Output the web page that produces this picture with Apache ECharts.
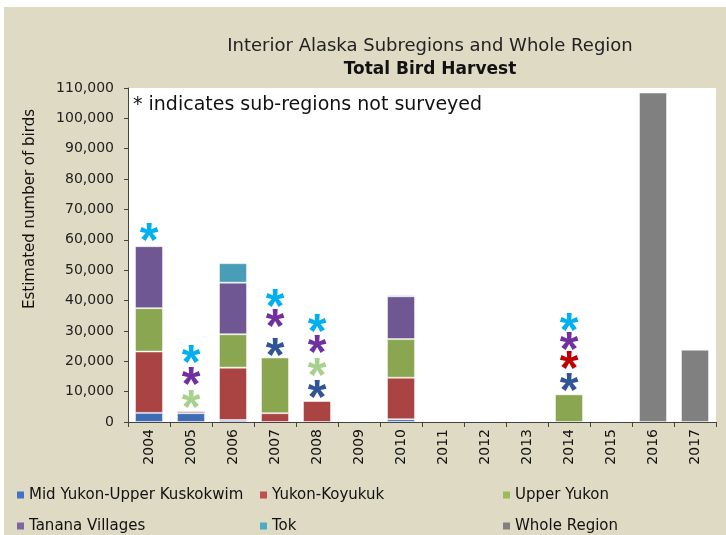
<!DOCTYPE html>
<html>
<head>
<meta charset="utf-8">
<script src="https://cdn.jsdelivr.net/npm/echarts@6/dist/echarts.min.js"></script>
<style>
html,body{margin:0;padding:0;background:#fff;}
#c{width:726px;height:535px;}
</style>
</head>
<body>
<div id="c"></div>
<script>
const years = ['2004','2005','2006','2007','2008','2009','2010','2011','2012','2013','2014','2015','2016','2017'];
const yTicks = [0,10000,20000,30000,40000,50000,60000,70000,80000,90000,100000,110000];
const midYukon     = [3000, 2900,   650, null, null, null,   900, null, null, null, null, null, null, null];
const yukonKoyukuk = [20200, 650, 17250, 2900, 6900, null, 13700, null, null, null, null, null, null, null];
const upperYukon   = [14300, null, 11000, 18350, null, null, 12700, null, null, null, 9100, null, null, null];
const tanana       = [20400, null, 17000, null, null, null, 14100, null, null, null, null, null, null, null];
const tok          = [null, null, 6400, null, null, null, 450, null, null, null, null, null, null, null];
const wholeRegion  = [null, null, null, null, null, null, null, null, null, null, null, null, 108500, 23800];

// asterisks: sub-regions not surveyed
const starYears  = ['2004','2005','2005','2005','2007','2007','2007','2008','2008','2008','2008','2014','2014','2014','2014'];
const starValues = [62800, 22400, 15200, 7700, 40800, 34200, 24900, 32600, 25700, 18100, 11100, 33100, 26800, 20500, 13300];
const starColors = ['#00B0F0','#00B0F0','#7030A0','#A9D18E','#00B0F0','#7030A0','#2F5597','#00B0F0','#7030A0','#A9D18E','#2F5597','#00B0F0','#7030A0','#C00000','#2F5597'];

const seriesNames = ['Mid Yukon-Upper Kuskokwim','Yukon-Koyukuk','Upper Yukon','Tanana Villages','Tok','Whole Region'];
const seriesData = [midYukon, yukonKoyukuk, upperYukon, tanana, tok, wholeRegion];
const seriesColors = ['#3E6DB5','#A94442','#8AA650','#6E5792','#4A9DB6','#808080'];
const legendColors = ['#4472C4','#C0504D','#9BBB59','#8064A2','#4BACC6','#808080'];

const F = '"DejaVu Sans", sans-serif';
const chart = echarts.init(document.getElementById('c'));

const barSeries = seriesNames.map((n, i) => ({
  name: n, type: 'bar', stack: 'total', data: seriesData[i],
  barWidth: 28,
  itemStyle: { color: seriesColors[i], borderColor: 'rgba(255,255,255,0.45)', borderWidth: 1 },
  emphasis: { disabled: true }
}));

const starSeries = {
  type: 'scatter', symbolSize: 1, symbol: 'circle',
  itemStyle: { color: 'rgba(0,0,0,0)', opacity: 1 },
  data: starYears.map((y, i) => ({
    value: [y, starValues[i]],
    label: { color: starColors[i] }
  })),
  label: {
    show: true, position: 'inside', formatter: '*', opacity: 1,
    fontFamily: '"Liberation Sans", Arial, sans-serif', fontWeight: 'bold', fontSize: 48,
    offset: [0, 11]
  },
  silent: true, z: 5
};

function legendCol(names, left) {
  return {
    orient: 'vertical', left: left, top: 487, padding: 0,
    itemWidth: 7, itemHeight: 7, itemGap: 15, icon: 'rect',
    itemStyle: { borderWidth: 0 },
    data: names.map(n => ({ name: n, itemStyle: { color: legendColors[seriesNames.indexOf(n)], borderWidth: 0 } })),
    textStyle: { fontFamily: F, fontSize: 15, color: '#111', lineHeight: 16 },
    selectedMode: false
  };
}

chart.setOption({
  backgroundColor: '#DEDAC4',
  animation: false,
  grid: { left: 128, right: 10, top: 88, bottom: 113, show: true, backgroundColor: '#fff', borderWidth: 0 },
  legend: [
    legendCol(['Mid Yukon-Upper Kuskokwim','Tanana Villages'], 17),
    legendCol(['Yukon-Koyukuk','Tok'], 260),
    legendCol(['Upper Yukon','Whole Region'], 503)
  ],
  xAxis: {
    type: 'category', data: years,
    axisLine: { lineStyle: { color: '#444', width: 1 } },
    axisTick: { show: true, length: 5, lineStyle: { color: '#444' } },
    axisLabel: { rotate: 90, fontFamily: F, fontSize: 14, color: '#111', margin: 7 }
  },
  yAxis: {
    type: 'value', min: 0, max: 110000, interval: 10000,
    axisLine: { show: true, lineStyle: { color: '#444' } },
    axisTick: { show: true, length: 4, lineStyle: { color: '#444' } },
    splitLine: { show: false },
    axisLabel: {
      fontFamily: F, fontSize: 14, color: '#222', margin: 14,
      formatter: v => yTicks.includes(v) ? v.toLocaleString('en-US') : ''
    }
  },
  graphic: [
    { type: 'rect', shape: { x: 0, y: 0, width: 726, height: 7 }, style: { fill: '#fff' } },
    { type: 'rect', shape: { x: 0, y: 0, width: 4, height: 535 }, style: { fill: '#fff' } },
    { type: 'text', x: 430, y: 46, style: { text: 'Interior Alaska Subregions and Whole Region', font: '18px "DejaVu Sans"', fill: '#222', textAlign: 'center', textVerticalAlign: 'middle' } },
    { type: 'text', x: 430, y: 70, style: { text: 'Total Bird Harvest', font: 'bold 17px "DejaVu Sans"', fill: '#111', textAlign: 'center', textVerticalAlign: 'middle' } },
    { type: 'text', x: 133, y: 105, z: 10, style: { text: '* indicates sub-regions not surveyed', font: '19px "DejaVu Sans"', fill: '#111', textAlign: 'left', textVerticalAlign: 'middle' } },
    { type: 'text', x: 30, y: 209, rotation: Math.PI / 2, style: { text: 'Estimated number of birds', font: '15px "DejaVu Sans"', fill: '#111', textAlign: 'center', textVerticalAlign: 'middle' } }
  ],
  series: barSeries.concat([starSeries])
});
</script>
</body>
</html>
